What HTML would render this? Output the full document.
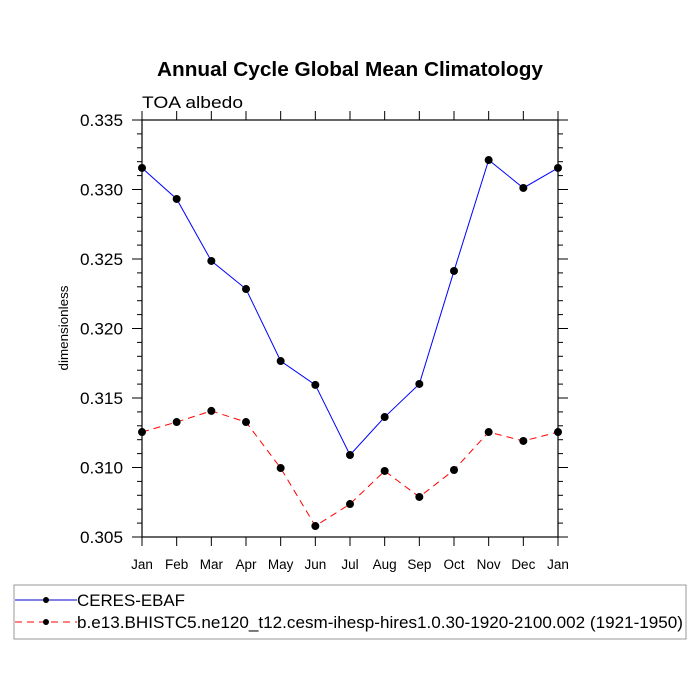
<!DOCTYPE html>
<html><head><meta charset="utf-8"><style>
body{margin:0;background:#fff}
svg{display:block;font-family:"Liberation Sans",sans-serif}
</style></head><body>
<svg id="chart" width="700" height="700">
<text x="350" y="76" text-anchor="middle" font-size="20" font-weight="bold" textLength="386" lengthAdjust="spacingAndGlyphs">Annual Cycle Global Mean Climatology</text>
<text x="142" y="108" font-size="17" textLength="101" lengthAdjust="spacingAndGlyphs">TOA albedo</text>
<text transform="translate(68,328) rotate(-90)" text-anchor="middle" font-size="12.5" textLength="85" lengthAdjust="spacingAndGlyphs">dimensionless</text>
<g id="axes"></g>
<g id="series"></g>
<rect x="14" y="585" width="672" height="54" fill="none" stroke="#999" stroke-width="1"/>
<g>
<line x1="15" y1="600" x2="77" y2="600" stroke="#0000cc" stroke-width="1"/>
<circle cx="46" cy="600" r="3" fill="#000"/>
<text x="77" y="606" font-size="17" textLength="108" lengthAdjust="spacingAndGlyphs">CERES-EBAF</text>
</g>
<g>
<line x1="15" y1="622" x2="77" y2="622" stroke="#f00" stroke-width="1" stroke-dasharray="7,5"/>
<circle cx="46" cy="622" r="3" fill="#000"/>
<text x="77" y="628" font-size="17" textLength="606" lengthAdjust="spacingAndGlyphs">b.e13.BHISTC5.ne120_t12.cesm-ihesp-hires1.0.30-1920-2100.002 (1921-1950)</text>
</g>
</svg>
<script>
const months = ["Jan","Feb","Mar","Apr","May","Jun","Jul","Aug","Sep","Oct","Nov","Dec","Jan"];
const ceres = [0.33155,0.32932,0.32486,0.32284,0.31766,0.31594,0.3109,0.31363,0.31601,0.32414,0.33212,0.33011,0.33155];
const model = [0.31255,0.31327,0.31407,0.31327,0.30996,0.30579,0.30737,0.30975,0.30788,0.30982,0.31255,0.31191,0.31255];
const yTicks = ["0.305","0.310","0.315","0.320","0.325","0.330","0.335"];

const NS="http://www.w3.org/2000/svg";
const L=142,R=558,T=120,B=537,yMin=0.305,yMax=0.335;
const xs=i=>L+(R-L)*i/(months.length-1);
const ys=v=>B-(v-yMin)/(yMax-yMin)*(B-T);
function mk(tag,attrs,parent){const e=document.createElementNS(NS,tag);for(const k in attrs)e.setAttribute(k,attrs[k]);parent.appendChild(e);return e;}
const ax=document.getElementById('axes');
const frame=mk('rect',{x:L,y:T,width:R-L,height:B-T,fill:'none',stroke:'#000','stroke-width':1.2},ax);


months.forEach((m,i)=>{
  const x=xs(i);
  mk('line',{x1:x,y1:B,x2:x,y2:B+9,stroke:'#000'},ax);
  mk('line',{x1:x,y1:T,x2:x,y2:T-9,stroke:'#000'},ax);
  const t=mk('text',{x:x,y:B+32,'text-anchor':'middle','font-size':13.5},ax);
  t.textContent=m;
  
  
});
for(let k=0;k<=30;k++){
  const v=yMin+k*0.001,y=ys(v),len=(k%5===0)?10:5;
  mk('line',{x1:L,y1:y,x2:L-len,y2:y,stroke:'#000'},ax);
  mk('line',{x1:R,y1:y,x2:R+len,y2:y,stroke:'#000'},ax);
}
yTicks.forEach(s=>{
  const t=mk('text',{x:123,y:ys(parseFloat(s))+6,'text-anchor':'end','font-size':17,textLength:43,lengthAdjust:'spacingAndGlyphs'},ax);
  t.textContent=s;
  
  
});
const sg=document.getElementById('series');
function draw(data,color,dash,name){
  const g=mk('g',{},sg);
  
  
  const a={points:data.map((v,i)=>xs(i)+','+ys(v)).join(' '),fill:'none',stroke:color,'stroke-width':1};
  if(dash)a['stroke-dasharray']=dash;
  mk('polyline',a,g);
  data.forEach((v,i)=>{
    const c=mk('circle',{cx:xs(i),cy:ys(v),r:4,fill:'#000'},g);
    
    
  });
}
draw(ceres,'#0000ff',null,'series-ceres');
draw(model,'#ff0000','7,5','series-model');
</script>
</body></html>
